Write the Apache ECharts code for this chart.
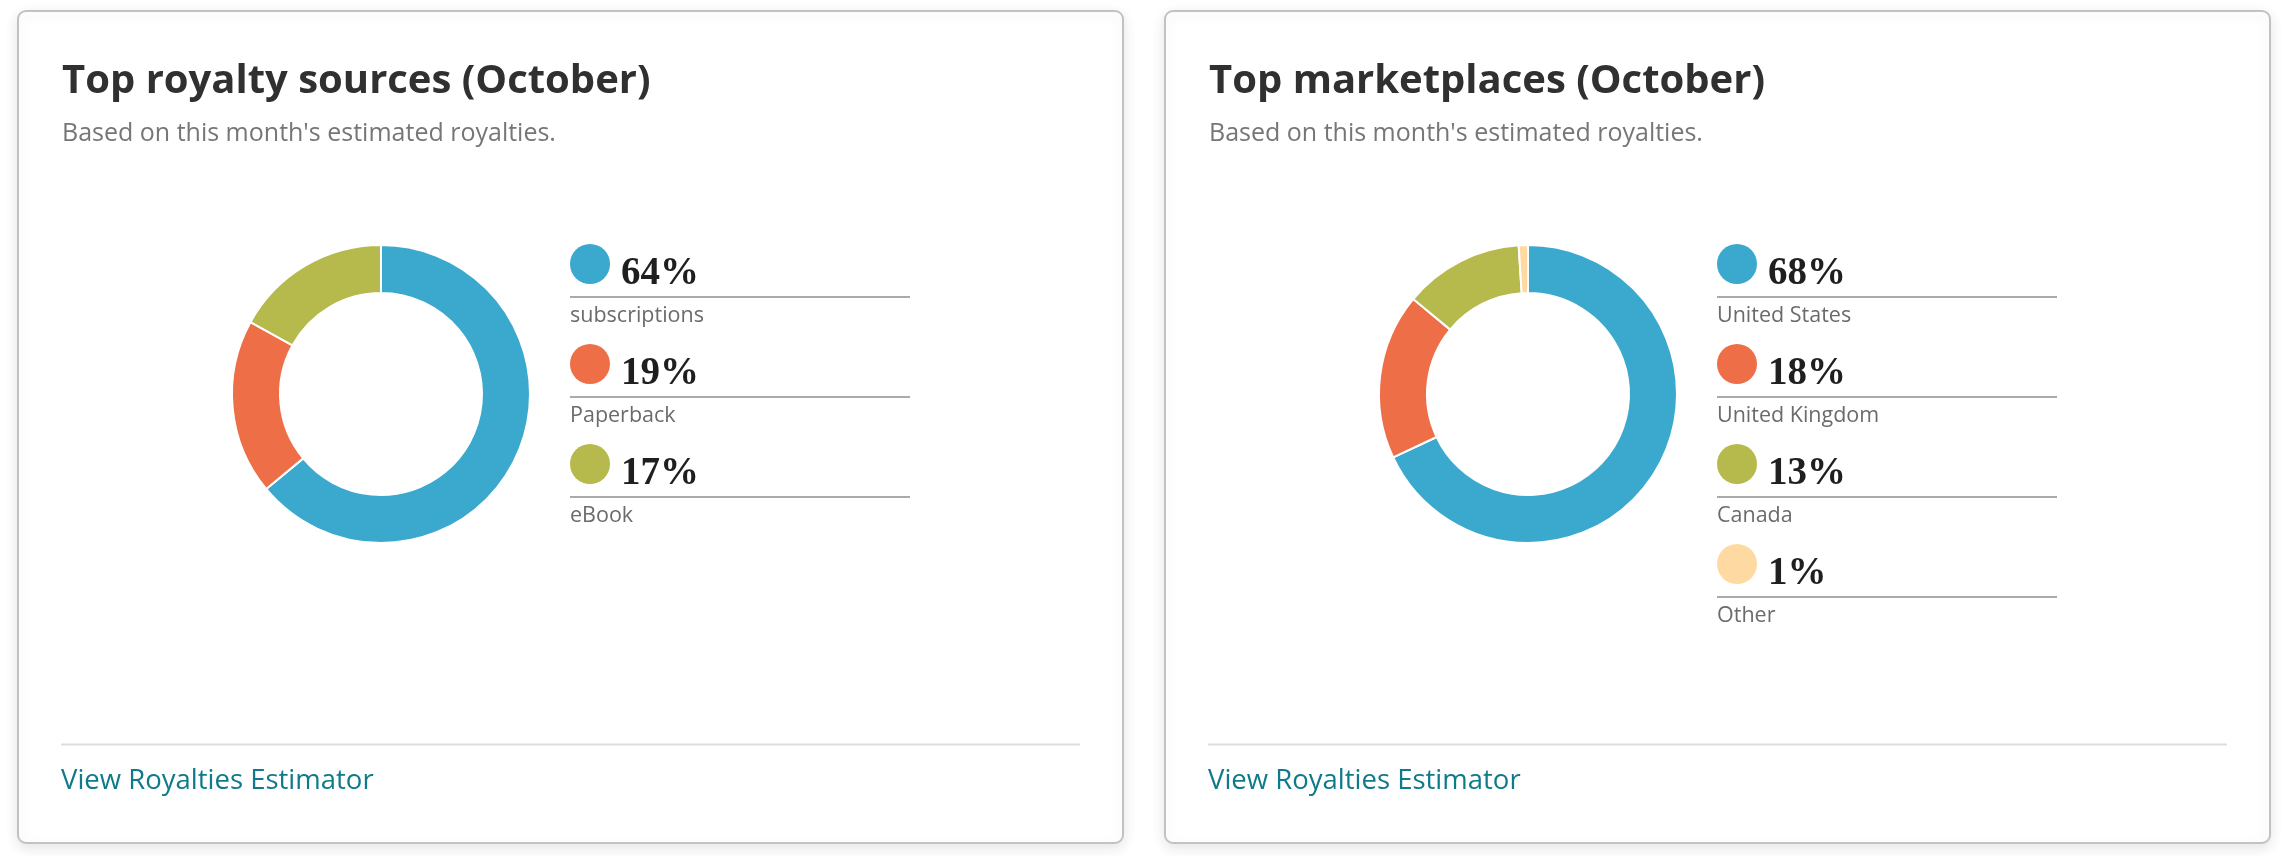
<!DOCTYPE html>
<html>
<head>
<meta charset="utf-8">
<script src="https://cdn.jsdelivr.net/npm/echarts@6/dist/echarts.min.js"></script>
<style>
html,body{margin:0;padding:0;background:#ffffff;}
#chart{width:2284px;height:856px;}
</style>
</head>
<body>
<div id="chart"></div>
<script>
// ---- data ----
const sourceTitle = 'Top royalty sources (October)';
const marketTitle = 'Top marketplaces (October)';
const subtitleText = "Based on this month's estimated royalties.";
const linkText = 'View Royalties Estimator';

const sourceNames = ['subscriptions', 'Paperback', 'eBook'];
const sourceValues = [64, 19, 17];
const marketNames = ['United States', 'United Kingdom', 'Canada', 'Other'];
const marketValues = [68, 18, 13, 1];

const sourceColors = ['#3ba8ce', '#ee6e47', '#b6b94b'];
const marketColors = ['#3ba8ce', '#ee6e47', '#b6b94b', '#ffd9a2'];

// ---- layout ----
const CARD_W = 1105, CARD_H = 832, CARD_Y = 11;
const CARD_X = [18, 1165];
const SANS = '"Open Sans", Lato, sans-serif';
const SERIF = '"Liberation Serif", "DejaVu Serif", serif';

function cardGraphics(ox, title, names, values, colors) {
  const g = [];
  g.push({
    type: 'rect', z: 0,
    shape: { x: ox, y: CARD_Y, width: CARD_W, height: CARD_H, r: 8 },
    style: { fill: '#ffffff', stroke: '#c2c2c2', lineWidth: 2,
      shadowBlur: 14, shadowColor: 'rgba(0,0,0,0.10)', shadowOffsetY: 4 }
  });
  g.push({ type: 'text', z: 2, style: { text: title, x: ox + 44, y: 82,
    font: 'bold 40px ' + SANS, fill: '#303030', verticalAlign: 'middle' } });
  g.push({ type: 'text', z: 2, style: { text: subtitleText, x: ox + 44, y: 134,
    font: '25px ' + SANS, fill: '#767676', verticalAlign: 'middle' } });
  const lx = ox + 552;
  names.forEach(function (n, i) {
    const cy = 264 + i * 100;
    g.push({ type: 'circle', z: 2, shape: { cx: lx + 20, cy: cy, r: 20 },
      style: { fill: colors[i] } });
    g.push({ type: 'text', z: 2, style: { text: values[i] + '%', x: lx + 51, y: cy + 10,
      font: 'bold 39px ' + SERIF, fill: '#1f1f1f', verticalAlign: 'middle' } });
    g.push({ type: 'line', z: 2, shape: { x1: lx, y1: cy + 33, x2: lx + 340, y2: cy + 33 },
      style: { stroke: '#aaaaaa', lineWidth: 2 } });
    g.push({ type: 'text', z: 2, style: { text: n, x: lx, y: cy + 52,
      font: '21.5px ' + SANS, fill: '#6b6b6b', verticalAlign: 'middle' } });
  });
  g.push({ type: 'line', z: 2, shape: { x1: ox + 43, y1: 744.5, x2: ox + 1062, y2: 744.5 },
    style: { stroke: '#dddddd', lineWidth: 2 } });
  g.push({ type: 'text', z: 2, style: { text: linkText, x: ox + 43, y: 781,
    font: '27.5px ' + SANS, fill: '#0f7a8a', verticalAlign: 'middle' } });
  return g;
}

function pieSeries(cx, names, values, colors) {
  return {
    type: 'pie', z: 5,
    center: [cx, 394],
    radius: [101, 149],
    startAngle: 90,
    clockwise: true,
    silent: true,
    label: { show: false },
    labelLine: { show: false },
    itemStyle: { borderColor: '#ffffff', borderWidth: 2 },
    data: names.map(function (n, i) {
      return { name: n, value: values[i], itemStyle: { color: colors[i] } };
    })
  };
}

const chart = echarts.init(document.getElementById('chart'), null, { renderer: 'canvas' });
chart.setOption({
  animation: false,
  backgroundColor: '#ffffff',
  graphic: [].concat(
    cardGraphics(CARD_X[0], sourceTitle, sourceNames, sourceValues, sourceColors),
    cardGraphics(CARD_X[1], marketTitle, marketNames, marketValues, marketColors)
  ),
  series: [
    pieSeries(CARD_X[0] + 363, sourceNames, sourceValues, sourceColors),
    pieSeries(CARD_X[1] + 363, marketNames, marketValues, marketColors)
  ]
});
</script>
</body>
</html>
